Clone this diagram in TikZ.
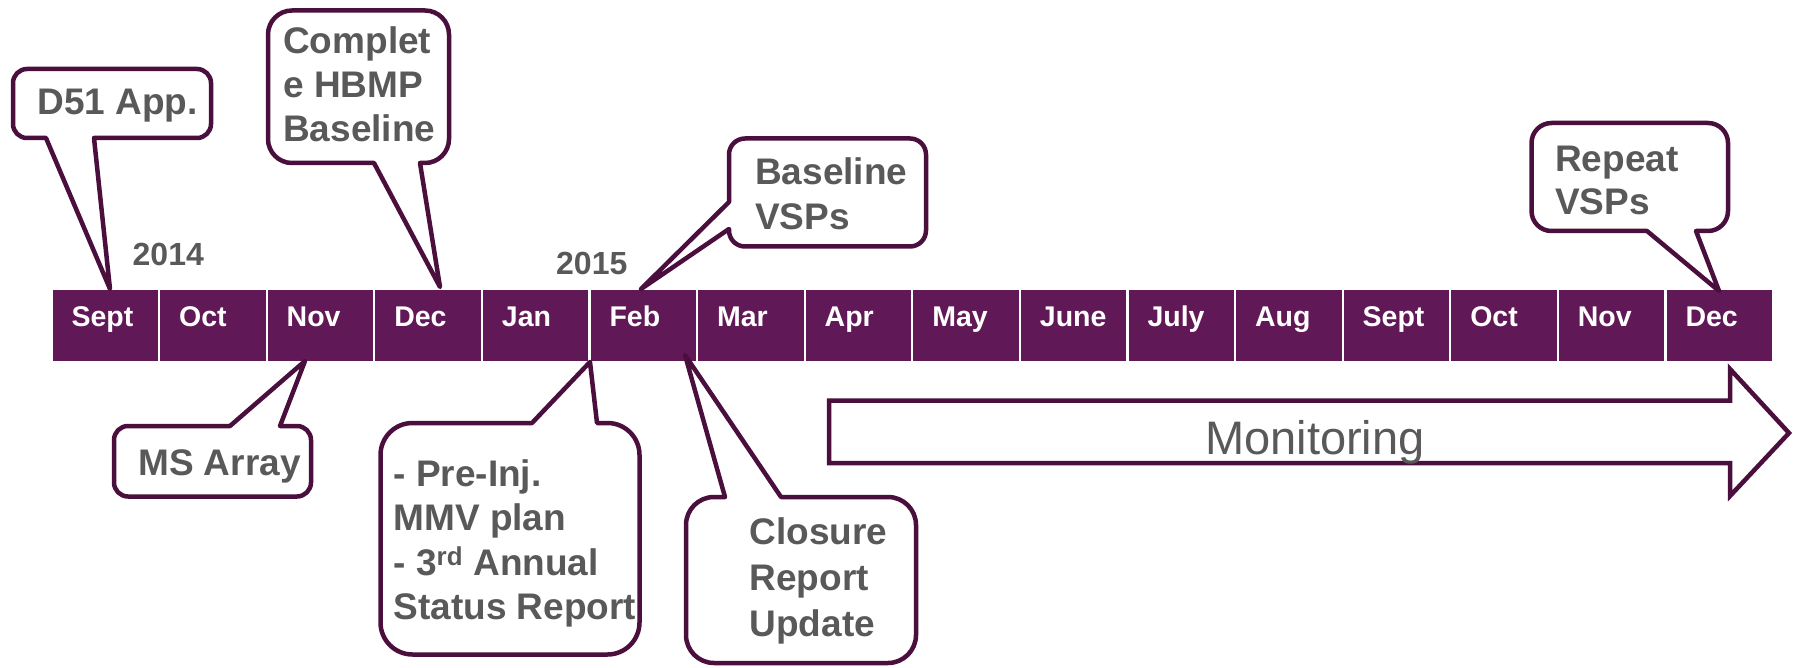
\documentclass[tikz,border=0pt]{standalone}
\usepackage{fontspec}
\setmainfont{Liberation Sans}
\definecolor{barc}{HTML}{611856}
\definecolor{edge}{HTML}{4A0F3D}
\definecolor{txt}{HTML}{595959}
\begin{document}
\begin{tikzpicture}[x=1pt,y=-1pt,
  cell/.style={fill=barc, draw=none, inner sep=0pt, minimum width=105.5pt, minimum height=70pt, anchor=north west},
  month/.style={text=white, font=\fontsize{28.5}{32}\selectfont\bfseries, inner sep=0pt, anchor=base west},
  year/.style={text=txt, font=\fontsize{32}{36}\selectfont\bfseries, inner sep=0pt, anchor=base west},
  ctext/.style={text=txt, font=\fontsize{37}{44}\selectfont\bfseries, inner sep=0pt, anchor=base west},
  callout/.style={draw=edge, line width=4.5pt, fill=white, line join=round},
  mon/.style={text=txt, font=\fontsize{47}{54}\selectfont, inner sep=0pt, anchor=base west}]
\useasboundingbox (0,0) rectangle (1796,668);
% month bar
\foreach \m [count=\i from 0] in {Sept,Oct,Nov,Dec,Jan,Feb,Mar,Apr,May,June,July,Aug,Sept,Oct,Nov,Dec}{
  \node[cell] (c\i) at ({52.3+\i*107.6},290.3) {};
  \node[month] (l\i) at ({71.3+\i*107.6},326.7) {\m};
}
% years
\node[year] (y14) at (132.5,266) {2014};
\node[year] (y15) at (556,275) {2015};
% D51 App.
\draw[callout,rounded corners=14pt] (94,138) -- (211,138) -- (211,69) -- (13,69) -- (13,138) [sharp corners] -- (46,138) -- (110,289) -- cycle;
\node[ctext] (d51) at (37.3,115) {D51 App.};
% Complete HBMP Baseline
\draw[callout,rounded corners=24pt] (420,163) -- (449,163) -- (449,10.5) -- (268,10.5) -- (268,163) [sharp corners] -- (374,163) -- (440,287) -- cycle;
\node[ctext] (hb1) at (283,53.3) {Complet};
\node[ctext] (hb2) at (283,97.7) {e HBMP};
\node[ctext] (hb3) at (283,141.7) {Baseline};
% Baseline VSPs
\draw[callout,rounded corners=16pt] (729,229) -- (729,246.5) -- (926,246.5) -- (926,138.5) -- (729,138.5) [sharp corners] -- (729,202) -- (641,289) -- cycle;
\node[ctext] (bv1) at (755,185) {Baseline};
\node[ctext] (bv2) at (755,230) {VSPs};
% Repeat VSPs
\draw[callout,rounded corners=20pt] (1696,231) -- (1728,231) -- (1728,123) -- (1531.5,123) -- (1531.5,231) [sharp corners] -- (1647,231) -- (1719,291) -- cycle;
\node[ctext] (rv1) at (1555,171.7) {Repeat};
\node[ctext] (rv2) at (1555,215) {VSPs};
% MS Array
\draw[callout,rounded corners=14pt] (280,426) -- (311,426) -- (311,496.5) -- (114,496.5) -- (114,426) [sharp corners] -- (230,426) -- (305,361) -- cycle;
\node[ctext] (ms) at (138,475) {MS Array};
% Pre-Inj
\draw[callout,rounded corners=32pt] (597,423) -- (639.5,423) -- (639.5,654.5) -- (380.5,654.5) -- (380.5,423) [sharp corners] -- (532,423) -- (590,362) -- cycle;
\node[ctext] (pi1) at (393.3,486) {- Pre-Inj.};
\node[ctext] (pi2) at (393.3,530.7) {MMV plan};
\node[ctext] (pi3) at (393.3,575) {- 3\textsuperscript{rd} Annual};
\node[ctext] (pi4) at (393.3,619.3) {Status Report};
% Closure
\draw[callout,rounded corners=28pt] (781,497) -- (916,497) -- (916,663) -- (686,663) -- (686,497) [sharp corners] -- (725,497) -- (685,355) -- cycle;
\node[ctext] (cl1) at (749.3,544) {Closure};
\node[ctext] (cl2) at (749.3,590.7) {Report};
\node[ctext] (cl3) at (749.3,636) {Update};
% Monitoring arrow
\draw[callout,line join=miter] (829,400.5) -- (1730,400.5) -- (1730,369) -- (1789,433) -- (1730,496) -- (1730,463) -- (829,463) -- cycle;
\node[mon] (mon) at (1205,454) {Monitoring};
\end{tikzpicture}
\end{document}
